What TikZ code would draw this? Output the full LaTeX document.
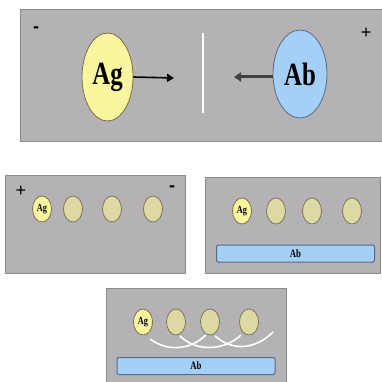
\documentclass[tikz,border=0pt]{standalone}
\usepackage{fontspec}
\setmainfont{Liberation Serif}
\newfontfamily\signfont{Liberation Sans}
\usetikzlibrary{shapes.geometric,arrows.meta}
\definecolor{panelgray}{HTML}{B4B2B5}
\definecolor{paneledge}{HTML}{8C8A8C}
\definecolor{agfill}{HTML}{FAF6A0}
\definecolor{agedge}{HTML}{7A7040}
\definecolor{dotfill}{HTML}{DCDAA2}
\definecolor{dotedge}{HTML}{7C7658}
\definecolor{abfill}{HTML}{A4D0F8}
\definecolor{abedge}{HTML}{5A6A80}
\newcommand{\tallbig}[1]{\scalebox{0.92}[1.2]{#1}}
\tikzset{
  panel/.style={fill=panelgray, draw=paneledge, line width=1pt},
  bigag/.style={ellipse, fill=agfill, draw=agedge, line width=0.8pt, minimum width=51pt, minimum height=88pt, inner sep=0pt, font=\fontsize{27}{27}\selectfont\bfseries},
  bigab/.style={ellipse, fill=abfill, draw=abedge, line width=0.8pt, minimum width=54pt, minimum height=88pt, inner sep=0pt, font=\fontsize{27}{27}\selectfont\bfseries},
  smallag/.style={ellipse, fill=agfill, draw=agedge, line width=0.8pt, minimum width=19pt, minimum height=26pt, inner sep=0pt, font=\fontsize{9}{9}\selectfont\bfseries},
  dot/.style={ellipse, fill=dotfill, draw=dotedge, line width=0.8pt, minimum width=19pt, minimum height=26pt, inner sep=0pt},
  abbar/.style={rectangle, rounded corners=2pt, fill=abfill, draw=abedge, line width=1pt, inner sep=0pt, font=\fontsize{9.5}{9.5}\selectfont\bfseries},
  sign/.style={font=\signfont\fontsize{18}{18}\selectfont, inner sep=0pt},
  arc/.style={draw=white, line width=1.6pt},
}
\begin{document}
\begin{tikzpicture}[x=1pt,y=-1pt]
\useasboundingbox (0,0) rectangle (381,382);
\fill[white] (0,0) rectangle (381,382);
% top panel
\draw[panel] (20,10) rectangle (384,142);
\node[sign] (minusT) at (36,30) {\textbf{-}};
\node[sign] (plusT) at (366,33) {+};
\node[bigag] (agT) at (107.5,77) {\tallbig{Ag}};
\node[bigab] (abT) at (300,74) {\tallbig{Ab}};
\coordinate (agTend) at (174,78);
\coordinate (abTend) at (234,77);
\draw[line width=1.6pt, -{Triangle[length=7pt,width=8pt]}] (agT.east) -- (agTend);
\draw[line width=3pt, draw=black!75, -{Triangle[length=7pt,width=9pt]}] (abT.west |- abTend) -- (abTend);
\draw[white, line width=2pt] (203,33) -- (203,113);
% bottom-left panel
\draw[panel] (5,175) rectangle (185,273);
\node[sign] (plusL) at (21,191) {+};
\node[sign] (minusL) at (172,189) {\textbf{-}};
\node[smallag] (agL) at (42,209) {\scalebox{0.92}[1.2]{Ag}};
\node[dot] (dL1) at (73,209) {};
\node[dot] (dL2) at (112,209) {};
\node[dot] (dL3) at (153,209) {};
% bottom-right panel
\draw[panel] (205,177) rectangle (380,273);
\node[smallag] (agR) at (242,211) {\scalebox{0.92}[1.2]{Ag}};
\node[dot] (dR1) at (276,211) {};
\node[dot] (dR2) at (312,211) {};
\node[dot] (dR3) at (352,211) {};
\node[abbar, minimum width=158pt, minimum height=17pt] (abR) at (295.5,253.5) {\scalebox{0.92}[1.2]{Ab}};
% bottom panel
\draw[panel] (106,288) rectangle (286,386);
\node[smallag] (agB) at (143,322) {\scalebox{0.92}[1.2]{Ag}};
\node[dot] (dB1) at (176,322) {};
\node[dot] (dB2) at (210,322) {};
\node[dot] (dB3) at (249,322) {};
\draw[arc] (150,339) .. controls (168,352) and (190,350) .. (206,335);
\draw[arc] (180,336) .. controls (196,352) and (224,351) .. (241,335);
\draw[arc] (215,336) .. controls (233,352) and (256,349) .. (273,332);
\node[abbar, minimum width=158pt, minimum height=17pt] (abB) at (196,366) {\scalebox{0.92}[1.2]{Ab}};
\end{tikzpicture}
\end{document}
